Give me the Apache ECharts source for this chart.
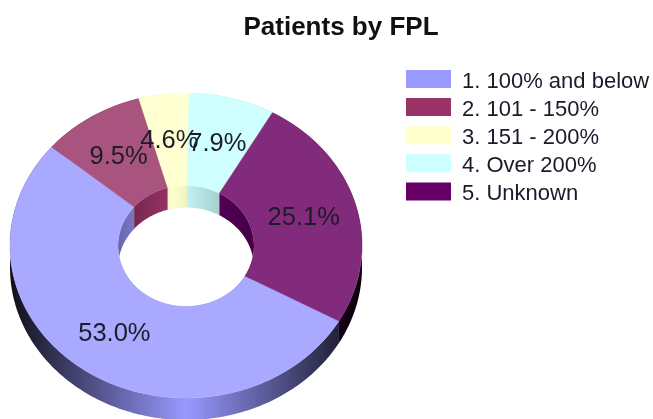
<!DOCTYPE html>
<html>
<head>
<meta charset="utf-8">
<style>html,body{margin:0;padding:0;background:#fff}#c{width:653px;height:419px}</style>
<script src="https://cdn.jsdelivr.net/npm/echarts@6/dist/echarts.min.js"></script>
</head>
<body>
<div id="c"></div>
<script>
const categories = ['1. 100% and below', '2. 101 - 150%', '3. 151 - 200%', '4. Over 200%', '5. Unknown'];
const shares = [53.0, 9.5, 4.6, 7.9, 25.1];
const legendColors = ['#9999FF', '#993366', '#FFFFCC', '#CCFFFF', '#660066'];
const topColors = ['#A9A9FF', '#A8547E', '#FFFFD2', '#CFFFFF', '#822A7C'];
const labelFont = 'Liberation Sans, Arial, sans-serif';

const cx = 186, cy = 245.5, rx = 176, ry = 152.5, hx = 68, hy = 60.5, holeDy = 0.5, depth = 22, rotation = 1;
const total = shares.reduce((a, b) => a + b, 0);
// Slice 1 begins clockwise from the top, after slices 4 and 5.
const firstAngle = (shares[3] + shares[4]) / total * 360 + rotation;

function pt(deg, a, b, dy) {
  const t = deg * Math.PI / 180;
  return [cx + a * Math.sin(t), cy - b * Math.cos(t) + dy];
}
function arc(from, to, a, b, dy) {
  const n = Math.max(2, Math.ceil(Math.abs(to - from)));
  const out = [];
  for (let i = 0; i <= n; i++) out.push(pt(from + (to - from) * i / n, a, b, dy));
  return out;
}
function shade(hex, k) {
  const v = [1, 3, 5].map(i => Math.round(parseInt(hex.substr(i, 2), 16) * k));
  return 'rgb(' + v.join(',') + ')';
}
function startOf(i) {
  let s = firstAngle;
  for (let j = 0; j < i; j++) s += shares[j] / total * 360;
  return s;
}
function renderSlice(i, params, api) {
  const value = api.value(0);
  const a0 = startOf(i), a1 = a0 + value / total * 360;
  const base = legendColors[i];
  const outerFill = new echarts.graphic.LinearGradient(cx - rx, 0, cx + rx, 0, [
    { offset: 0, color: shade(base, 0.1) },
    { offset: 0.5, color: shade(base, 1) },
    { offset: 1, color: shade(base, 0.1) }
  ], true);
  const innerFill = new echarts.graphic.LinearGradient(cx - hx, 0, cx + hx, 0, [
    { offset: 0, color: shade(base, 0.68) },
    { offset: 0.4, color: shade(base, 1) },
    { offset: 1, color: shade(base, 0.68) }
  ], true);
  const outerWall = arc(a0, a1, rx, ry, 0).concat(arc(a1, a0, rx, ry, depth));
  const innerWall = arc(a0, a1, hx, hy, holeDy).concat(arc(a1, a0, hx, hy, holeDy + depth));
  const face = arc(a0, a1, rx, ry, 0).concat(arc(a1, a0, hx, hy, holeDy));
  const mid = pt((a0 + a1) / 2, rx * 0.7, ry * 0.7, 1);
  return {
    type: 'group',
    children: [
      { type: 'polygon', z2: 1, shape: { points: outerWall }, style: { fill: outerFill } },
      { type: 'polygon', z2: 1, shape: { points: innerWall }, style: { fill: innerFill } },
      { type: 'polygon', z2: 5, shape: { points: face }, style: { fill: topColors[i], stroke: topColors[i], lineWidth: 0.5 } },
      { type: 'text', z2: 10, style: {
          x: mid[0] - 1, y: mid[1], text: value.toFixed(1) + '%', align: 'center', verticalAlign: 'middle',
          fill: '#1c1c2a', font: '25.5px ' + labelFont } }
    ]
  };
}

const chart = echarts.init(document.getElementById('c'), null, { renderer: 'canvas', width: 653, height: 419 });
chart.setOption({
  animation: false,
  backgroundColor: '#fff',
  title: {
    text: 'Patients by FPL', left: 336, top: 10, textAlign: 'center',
    textStyle: { fontFamily: labelFont, fontSize: 26, fontWeight: 'bold', color: '#111' }
  },
  legend: {
    orient: 'vertical', left: 406, top: 70, icon: 'rect', itemWidth: 45, itemHeight: 18, itemGap: 5.6,
    selectedMode: false, padding: 0, data: categories,
    formatter: '{t|{name}}',
    textStyle: {
      fontFamily: labelFont, fontSize: 22, color: '#1a1a2a',
      rich: { t: { fontFamily: labelFont, fontSize: 22, color: '#1a1a2a', padding: [5, 0, 0, 6] } }
    }
  },
  series: categories.map((name, i) => ({
    type: 'custom', name, coordinateSystem: 'none', silent: true,
    itemStyle: { color: legendColors[i] },
    data: [[shares[i]]],
    renderItem: (params, api) => renderSlice(i, params, api)
  }))
});
</script>
</body>
</html>
